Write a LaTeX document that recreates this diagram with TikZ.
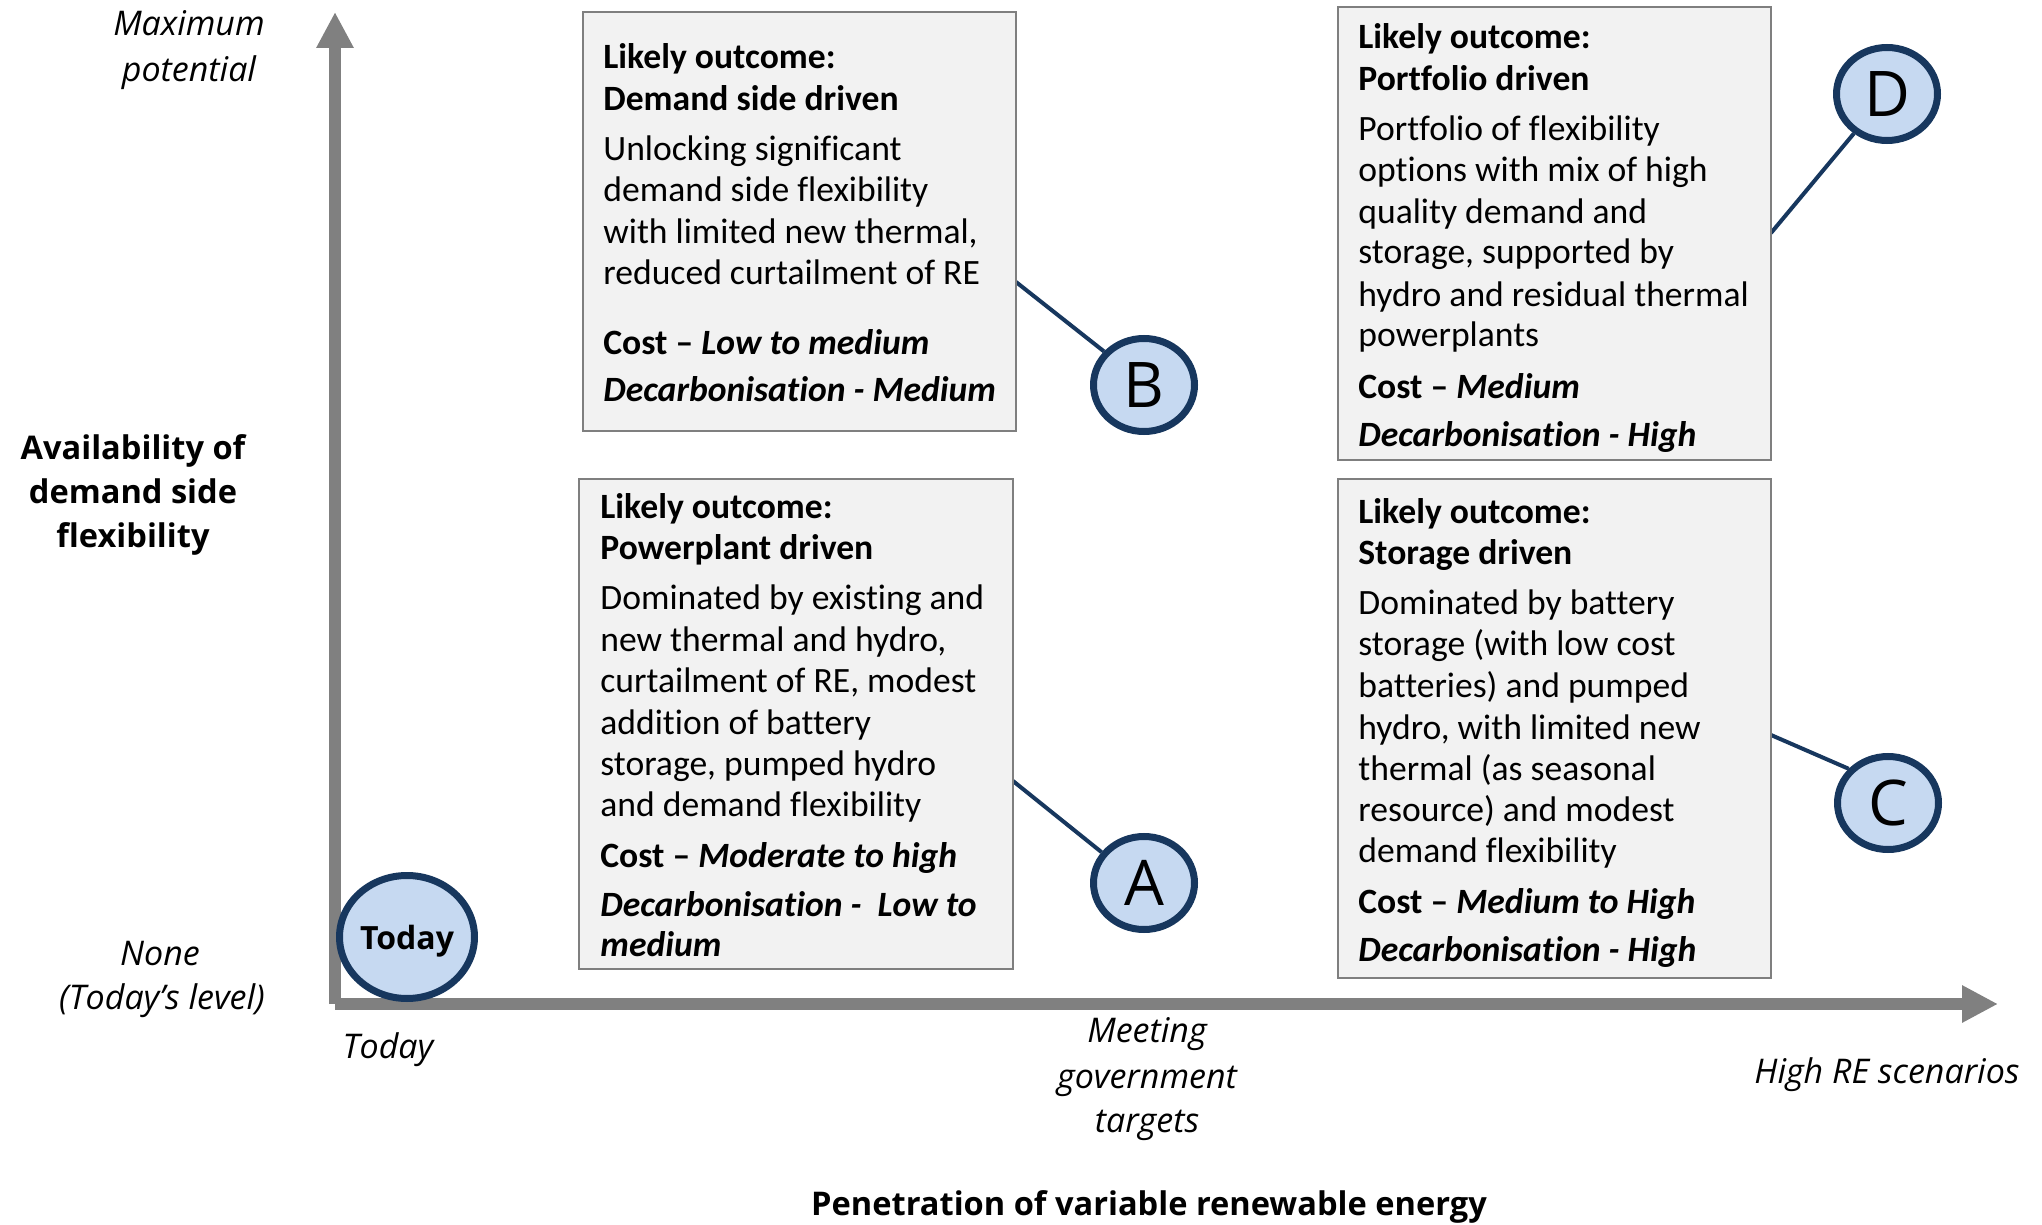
\documentclass[tikz,border=0pt]{standalone}
\usepackage{fontspec}
\setmainfont{Carlito}[Ligatures=NoCommon]
\newfontfamily\osans{Open Sans}
\usetikzlibrary{arrows.meta,shapes.geometric}
\definecolor{navy}{HTML}{17375E}
\definecolor{circfill}{HTML}{C6D9F1}
\definecolor{boxfill}{HTML}{F2F2F2}
\definecolor{boxline}{HTML}{7F7F7F}
\definecolor{axisgray}{HTML}{808080}
\pgfdeclarelayer{connlayer}
\pgfsetlayers{connlayer,main}
\begin{document}
\begin{tikzpicture}[x=0.5pt,y=-0.5pt,
  axis/.style={draw=axisgray, line width=6pt, -{Triangle[length=18pt,width=17.5pt]}},
  box/.style={rectangle, draw=boxline, fill=boxfill, line width=1.1pt, inner sep=0},
  bt/.style={anchor=base west, inner sep=0, yshift=-1.6pt, font=\fontsize{17.8}{20.8}\selectfont},
  conn/.style={draw=navy, line width=2pt},
  circ/.style={ellipse, draw=navy, fill=circfill, line width=3.5pt, inner sep=0,
    minimum width=50.5pt, minimum height=46.5pt, font=\osans\fontsize{31.5}{32}\selectfont},
  ilabel/.style={anchor=base, inner sep=0, font=\osans\itshape\fontsize{17}{20}\selectfont},
  blabel/.style={anchor=base, inner sep=0, font=\osans\bfseries\fontsize{16.3}{20}\selectfont}
]
\useasboundingbox (0,0) rectangle (2042,1225);

% axes
\coordinate (origin) at (335,1004);
\coordinate (ytip) at (335,12);
\coordinate (xtip) at (1998,1004);
\draw[axis] (origin) -- (ytip);
\draw[axis] (origin) -- (xtip);

% boxes
\node[box, minimum width=216.5pt, minimum height=209.5pt] (boxB) at (799.5,221.5) {};
\node[box, minimum width=217pt, minimum height=245pt] (boxA) at (796,724) {};
\node[box, minimum width=216.5pt, minimum height=226.5pt] (boxD) at (1554.5,233.5) {};
\node[box, minimum width=216.5pt, minimum height=249.5pt] (boxC) at (1554.5,728.5) {};

% box B text
\foreach \y/\t [count=\i] in {
  65/{\bfseries Likely outcome:},
  107/{\bfseries Demand side driven},
  157/{Unlocking significant},
  198/{demand side flexibility},
  240/{with limited new thermal,},
  281/{reduced curtailment of RE},
  351/{\bfseries Cost -- \itshape Low to medium},
  398/{\bfseries\itshape Decarbonisation - Medium}}
  \node[bt] (B\i) at (603,\y) {\t};

% box A text
\foreach \y/\t [count=\i] in {
  515/{\bfseries Likely outcome:},
  556/{\bfseries Powerplant driven},
  606/{Dominated by existing and},
  648/{new thermal and hydro,},
  689/{curtailment of RE, modest},
  731/{addition of battery},
  772/{storage, pumped hydro},
  813/{and demand flexibility},
  864/{\bfseries Cost -- \itshape Moderate to high},
  913/{\bfseries\itshape Decarbonisation -\ \ Low to},
  953/{\bfseries\itshape medium}}
  \node[bt] (A\i) at (600,\y) {\t};

% box D text
\foreach \y/\t [count=\i] in {
  45/{\bfseries Likely outcome:},
  87/{\bfseries Portfolio driven},
  137/{Portfolio of flexibility},
  178/{options with mix of high},
  220/{quality demand and},
  260/{storage, supported by},
  303/{hydro and residual thermal},
  343/{powerplants},
  395/{\bfseries Cost -- \itshape Medium},
  443/{\bfseries\itshape Decarbonisation - High}}
  \node[bt] (D\i) at (1358,\y) {\t};

% box C text
\foreach \y/\t [count=\i] in {
  520/{\bfseries Likely outcome:},
  561/{\bfseries Storage driven},
  611/{Dominated by battery},
  652/{storage (with low cost},
  694/{batteries) and pumped},
  736/{hydro, with limited new},
  777/{thermal (as seasonal},
  818/{resource) and modest},
  859/{demand flexibility},
  910/{\bfseries Cost -- \itshape Medium to High},
  958/{\bfseries\itshape Decarbonisation - High}}
  \node[bt] (C\i) at (1358,\y) {\t};

% circles
\node[circ] (cA) at (1144,883) {A};
\node[circ] (cB) at (1144,385) {B};
\node[circ] (cC) at (1888,803) {C};
\node[circ] (cD) at (1887,94) {D};
\node[circ, minimum width=67.5pt, minimum height=61.5pt, text depth=0pt,
  font=\osans\bfseries\fontsize{16}{18}\selectfont] (cToday) at (407,937) {Today};

% connectors (drawn beneath the circles)
\coordinate (sB) at (1016,282);
\coordinate (sA) at (1013,781);
\coordinate (sD) at (1771,233);
\coordinate (sC) at (1771,735);
\begin{pgfonlayer}{connlayer}
\draw[conn] (sB) -- (cB.140);
\draw[conn] (sA) -- (cA.144);
\draw[conn] (sD) -- (cD.230);
\draw[conn] (sC) -- (cC.139);
\end{pgfonlayer}

% axis labels
\node[ilabel] (ymax1) at (189,36) {Maximum};
\node[ilabel] (ymax2) at (189,82) {potential};
\node[blabel] (ytitle1) at (133,459) {Availability of};
\node[blabel] (ytitle2) at (133,503) {demand side};
\node[blabel] (ytitle3) at (133,547) {flexibility};
\node[ilabel] (ynone1) at (160,965) {None};
\node[ilabel] (ynone2) at (162,1009) {(Today’s level)};
\node[ilabel] (xtoday) at (388,1058) {Today};
\node[ilabel] (xmeet1) at (1147,1042) {Meeting};
\node[ilabel] (xmeet2) at (1147,1088) {government};
\node[ilabel] (xmeet3) at (1147,1132) {targets};
\node[ilabel] (xhigh) at (1887,1083) {High RE scenarios};
\node[blabel] (xtitle) at (1149,1215) {Penetration of variable renewable energy};
\end{tikzpicture}
\end{document}
